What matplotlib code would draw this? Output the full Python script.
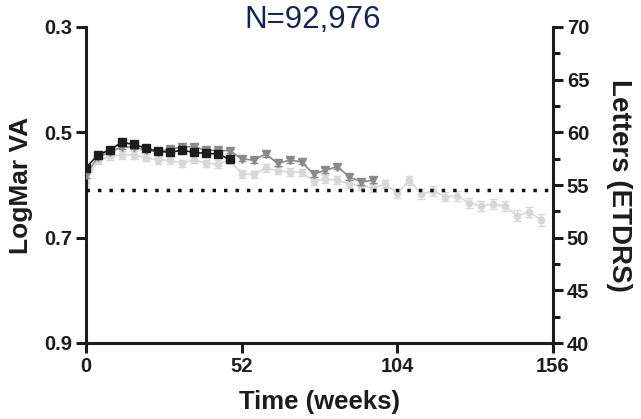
import matplotlib
matplotlib.use("Agg")
import matplotlib.pyplot as plt
from matplotlib.ticker import MultipleLocator

# Mean visual acuity (logMAR) by cohort, sampled every 4 weeks
weeks_black = [0, 4, 8, 12, 16, 20, 24, 28, 32, 36, 40, 44, 48]
va_black = [0.567, 0.543, 0.533, 0.519, 0.523, 0.530, 0.536, 0.538, 0.534,
            0.538, 0.540, 0.541, 0.551]
err_black = [0.004, 0.003, 0.003, 0.003, 0.003, 0.003, 0.003, 0.003, 0.003,
             0.003, 0.003, 0.003, 0.004]

weeks_dark = [0, 4, 8, 12, 16, 20, 24, 28, 32, 36, 40, 44, 48, 52, 56, 60,
              64, 68, 72, 76, 80, 84, 88, 92, 96]
va_dark = [0.581, 0.547, 0.537, 0.528, 0.528, 0.534, 0.537, 0.532, 0.528,
           0.527, 0.534, 0.534, 0.535, 0.550, 0.553, 0.541, 0.559, 0.553,
           0.556, 0.579, 0.572, 0.565, 0.585, 0.594, 0.591]
err_dark = [0.005, 0.004, 0.004, 0.004, 0.004, 0.004, 0.004, 0.004, 0.004,
            0.004, 0.004, 0.004, 0.004, 0.005, 0.005, 0.005, 0.005, 0.005,
            0.005, 0.005, 0.005, 0.005, 0.005, 0.006, 0.006]

weeks_light = [0, 4, 8, 12, 16, 20, 24, 28, 32, 36, 40, 44, 48, 52, 56, 60,
               64, 68, 72, 76, 80, 84, 88, 92, 96, 100, 104, 108, 112, 116,
               120, 124, 128, 132, 136, 140, 144, 148, 152]
va_light = [0.594, 0.554, 0.545, 0.543, 0.543, 0.548, 0.553, 0.553, 0.559,
            0.552, 0.559, 0.560, 0.553, 0.579, 0.580, 0.568, 0.573, 0.575,
            0.576, 0.592, 0.589, 0.591, 0.598, 0.602, 0.606, 0.598, 0.616,
            0.591, 0.617, 0.611, 0.622, 0.621, 0.634, 0.640, 0.636, 0.640,
            0.658, 0.651, 0.666]
err_light = [0.007, 0.007, 0.007, 0.007, 0.007, 0.007, 0.007, 0.007, 0.007,
             0.007, 0.007, 0.007, 0.007, 0.007, 0.007, 0.007, 0.007, 0.007,
             0.007, 0.008, 0.008, 0.008, 0.008, 0.008, 0.008, 0.008, 0.009,
             0.009, 0.009, 0.009, 0.009, 0.009, 0.010, 0.010, 0.010, 0.010,
             0.010, 0.010, 0.011]

reference_va = 0.61
x_ticks = [0, 52, 104, 156]
left_ticks = [0.3, 0.5, 0.7, 0.9]
right_ticks = [40, 45, 50, 55, 60, 65, 70]

INK = "#1c1c1c"
plt.rcParams["font.family"] = ["Liberation Sans", "DejaVu Sans"]

fig = plt.figure(figsize=(6.41, 4.19), dpi=100)
ax = fig.add_axes([86 / 641, 1 - 343 / 419, (553 - 86) / 641, (343 - 27) / 419])

common = dict(capsize=3, elinewidth=1.0, capthick=1.0, linewidth=1.2)
ax.errorbar(weeks_light, va_light, yerr=err_light, color="#d7d7d7", marker="o",
            markersize=4.5, zorder=2, **common)
ax.errorbar(weeks_dark, va_dark, yerr=err_dark, color="#8a8a8a", marker="v",
            markersize=6, zorder=3, **common)
ax.errorbar(weeks_black, va_black, yerr=err_black, color=INK, marker="s",
            markersize=5.5, zorder=4, **common)

ax.axhline(reference_va, color="#111111", linewidth=2.5,
           linestyle=(0, (1.0, 2.3)), zorder=5)

ax.set_xlim(0, 156)
ax.set_ylim(0.9, 0.3)
ax.set_xticks(x_ticks)
ax.set_yticks(left_ticks)
ax.set_yticklabels([f"{v:.1f}" for v in left_ticks])

for side in ("top", "right"):
    ax.spines[side].set_visible(False)
for side in ("left", "bottom"):
    ax.spines[side].set_linewidth(2.2)
    ax.spines[side].set_color(INK)

ax.tick_params(axis="both", length=7, width=2.2, color=INK, labelcolor=INK,
               labelsize=14.5, pad=3)
for lab in ax.get_xticklabels() + ax.get_yticklabels():
    lab.set_fontweight("bold")

ax.set_xlabel("Time (weeks)", fontsize=18.5, fontweight="bold", color=INK,
              labelpad=10)
ax.set_ylabel("LogMar VA", fontsize=19, fontweight="bold", color=INK,
              labelpad=8)

# ETDRS letter score scale: letters = 85 - 50 * logMAR
ax2 = ax.twinx()
ax2.set_ylim(40, 70)
for side in ("top", "left", "bottom"):
    ax2.spines[side].set_visible(False)
ax2.spines["right"].set_linewidth(2.2)
ax2.spines["right"].set_color(INK)
ax2.set_yticks(right_ticks)
ax2.yaxis.set_minor_locator(MultipleLocator(2.5))
ax2.tick_params(axis="y", which="major", length=7, width=2.2, color=INK,
                labelcolor=INK, labelsize=14.5, pad=3)
ax2.tick_params(axis="y", which="minor", length=5, width=2.2, color=INK)
for lab in ax2.get_yticklabels():
    lab.set_fontweight("bold")
ax2.set_ylabel("Letters (ETDRS)", fontsize=20, fontweight="bold", color=INK,
               rotation=270, labelpad=31)

fig.text(313 / 641, 1 - 28 / 419, "N=92,976", fontsize=22.5, color="#14245a",
         ha="center", va="baseline")

fig.savefig("out.png", dpi=100)
